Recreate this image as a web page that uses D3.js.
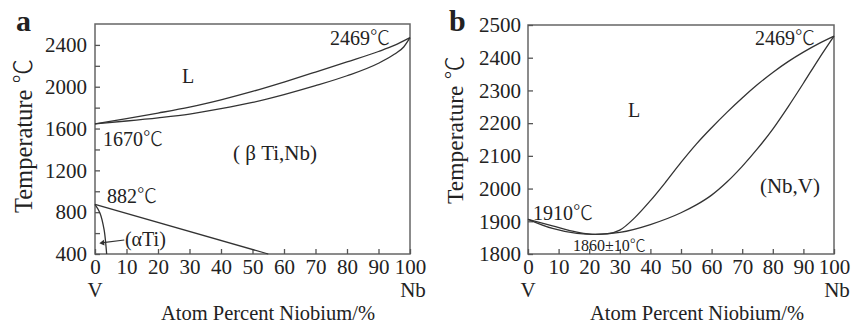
<!DOCTYPE html>
<html>
<head>
<meta charset="utf-8">
<script src="https://cdn.jsdelivr.net/npm/d3@7"></script>
<style>
  body { margin: 0; background: #fff; }
  svg { display: block; }
  text { font-family: "Liberation Serif", "Noto Sans CJK SC", serif; fill: #222; }
  .deg { font-family: "Noto Sans CJK SC", sans-serif; font-weight: 300; }
</style>
</head>
<body>
<div class="container"></div>
<script>
// panel a: Ti-Nb
const aLiqX = [0, 10, 20, 30, 40, 50, 60, 70, 80, 90, 95, 100];
const aLiqT = [1645, 1695, 1748, 1805, 1875, 1955, 2045, 2140, 2237, 2337, 2395, 2469];
const aSolX = [0, 10, 20, 30, 40, 50, 60, 70, 80, 90, 95, 98, 100];
const aSolT = [1645, 1672, 1702, 1738, 1790, 1850, 1925, 2010, 2105, 2225, 2310, 2380, 2469];
const aTransX = [0, 55];
const aTransT = [875, 400];
const aAlphaX = [0, 1.6, 2.9, 3.5, 3.7];
const aAlphaT = [875, 790, 630, 470, 400];

// panel b: Nb-V
const bLiqX = [0, 8, 16, 22, 26, 30, 35, 40, 45, 50, 55, 60, 65, 70, 75, 80, 85, 90, 95, 100];
const bLiqT = [1906, 1886, 1867, 1860, 1862, 1873, 1912, 1963, 2020, 2080, 2136, 2186, 2233, 2277, 2318, 2355, 2388, 2417, 2443, 2466];
const bSolX = [0, 8, 16, 22, 30, 40, 50, 55, 60, 65, 70, 75, 80, 85, 90, 95, 100];
const bSolT = [1906, 1878, 1863, 1860, 1866, 1890, 1926, 1950, 1980, 2020, 2068, 2122, 2182, 2250, 2322, 2396, 2466];

const xTicks = [0, 10, 20, 30, 40, 50, 60, 70, 80, 90, 100];
const aYTicks = [400, 600, 800, 1000, 1200, 1400, 1600, 1800, 2000, 2200, 2400];
const aYLabels = [400, 800, 1200, 1600, 2000, 2400];
const bYTicks = [1800, 1900, 2000, 2100, 2200, 2300, 2400, 2500];

const W = 862, H = 324;
const svg = d3.select('.container').append('svg')
    .attr('width', W).attr('height', H);

const zip = (xs, ys) => xs.map((v, i) => [v, ys[i]]);

// text with the ℃ sign in a lighter font
function label(sel, s) {
    const parts = s.split('℃');
    sel.append('tspan').text(parts[0]);
    if (parts.length > 1) {
        sel.append('tspan').attr('class', 'deg').text('℃');
        if (parts[1]) sel.append('tspan').text(parts[1]);
    }
    return sel;
}

function panel(o) {
    const x = d3.scaleLinear().domain([0, 100]).range([o.left, o.right]);
    const y = d3.scaleLinear().domain(o.yDomain).range([o.bottom, o.top]);
    const g = svg.append('g');

    // frame
    g.append('rect')
        .attr('x', o.left).attr('y', o.top)
        .attr('width', o.right - o.left).attr('height', o.bottom - o.top)
        .attr('fill', 'none').attr('stroke', '#666').attr('stroke-width', 1.5);

    const xa = g.append('g')
        .attr('transform', `translate(0,${o.bottom})`)
        .call(d3.axisBottom(x).tickValues(xTicks).tickSize(-5).tickPadding(5).tickSizeOuter(0));
    const ya = g.append('g')
        .attr('transform', `translate(${o.left},0)`)
        .call(d3.axisLeft(y).tickValues(o.yTicks).tickSize(-5).tickPadding(o.yPad).tickSizeOuter(0)
            .tickFormat(d => o.yLabels.includes(d) ? d : ''));
    [xa, ya].forEach(a => {
        a.select('.domain').remove();
        a.selectAll('line').attr('stroke', '#555').attr('stroke-width', 1.3);
        a.selectAll('text').attr('font-size', 21).attr('fill', '#222')
            .style('font-family', '"Liberation Serif", serif');
    });

    const line = d3.line().x(d => x(d[0])).y(d => y(d[1])).curve(d3.curveMonotoneX);
    o.curves.forEach(c => {
        g.append('path').datum(c)
            .attr('d', line)
            .attr('fill', 'none').attr('stroke', '#333').attr('stroke-width', 1.3);
    });

    // end labels
    g.append('text').attr('x', x(0)).attr('y', 297).attr('text-anchor', 'middle')
        .attr('font-size', 21).text('V');
    g.append('text').attr('x', x(100) + 3).attr('y', 297).attr('text-anchor', 'middle')
        .attr('font-size', 21).text('Nb');
    g.append('text').attr('x', o.titleCx).attr('y', 320).attr('text-anchor', 'middle')
        .attr('font-size', 20.5).text('Atom Percent Niobium/%');
    label(g.append('text')
        .attr('transform', `translate(${o.titleX},${o.titleY}) rotate(-90)`)
        .attr('text-anchor', 'middle').attr('font-size', o.titleSize), 'Temperature ℃');
    g.append('text').attr('x', o.letterX).attr('y', 31)
        .attr('font-size', 30).attr('font-weight', 'bold').text(o.letter);

    o.notes.forEach(n => {
        label(g.append('text').attr('x', x(n[0])).attr('y', y(n[1]))
            .attr('font-size', n[3] || 20), n[2]);
    });
    return { x, y, g };
}

const pa = panel({
    left: 95, right: 410, top: 24, bottom: 254, yDomain: [400, 2600],
    yTicks: aYTicks, yLabels: aYLabels, yPad: 8,
    titleX: 32, titleY: 136, titleSize: 24.5, titleCx: 268, letter: 'a', letterX: 16,
    curves: [zip(aLiqX, aLiqT), zip(aSolX, aSolT), zip(aTransX, aTransT)],
    notes: [
        [74.6, 2402, '2469℃'],
        [27.6, 2036, 'L'],
        [2.5, 1433, '1670℃'],
        [43.8, 1299, '( β Ti,Nb)', 21],
        [3.8, 888, '882℃'],
        [9.5, 477, '(αTi)']
    ]
});
pa.g.append('path').datum(zip(aAlphaX, aAlphaT))
    .attr('d', d3.line().x(d => pa.x(d[0])).y(d => pa.y(d[1])).curve(d3.curveCatmullRom))
    .attr('fill', 'none').attr('stroke', '#333').attr('stroke-width', 1.3);
// arrow from (αTi) to the alpha boundary
pa.g.append('line')
    .attr('x1', pa.x(9.3)).attr('y1', pa.y(534))
    .attr('x2', pa.x(2.6)).attr('y2', pa.y(508))
    .attr('stroke', '#333').attr('stroke-width', 1.2);
pa.g.append('path')
    .attr('d', d3.symbol(d3.symbolTriangle, 14)())
    .attr('transform', `translate(${pa.x(2.4)},${pa.y(507)}) rotate(-96)`)
    .attr('fill', '#333');

panel({
    left: 528, right: 834, top: 25, bottom: 254, yDomain: [1800, 2500],
    yTicks: bYTicks, yLabels: bYTicks, yPad: 7,
    titleX: 463, titleY: 130, titleSize: 23.5, titleCx: 697, letter: 'b', letterX: 449,
    curves: [zip(bLiqX, bLiqT), zip(bSolX, bSolT)],
    notes: [
        [74.2, 2439, '2469℃'],
        [32.7, 2219, 'L'],
        [75.8, 1986, '(Nb,V)', 21],
        [1.6, 1904, '1910℃'],
        [14.7, 1809, '1860±10℃', 16]
    ]
});
</script>
</body>
</html>
